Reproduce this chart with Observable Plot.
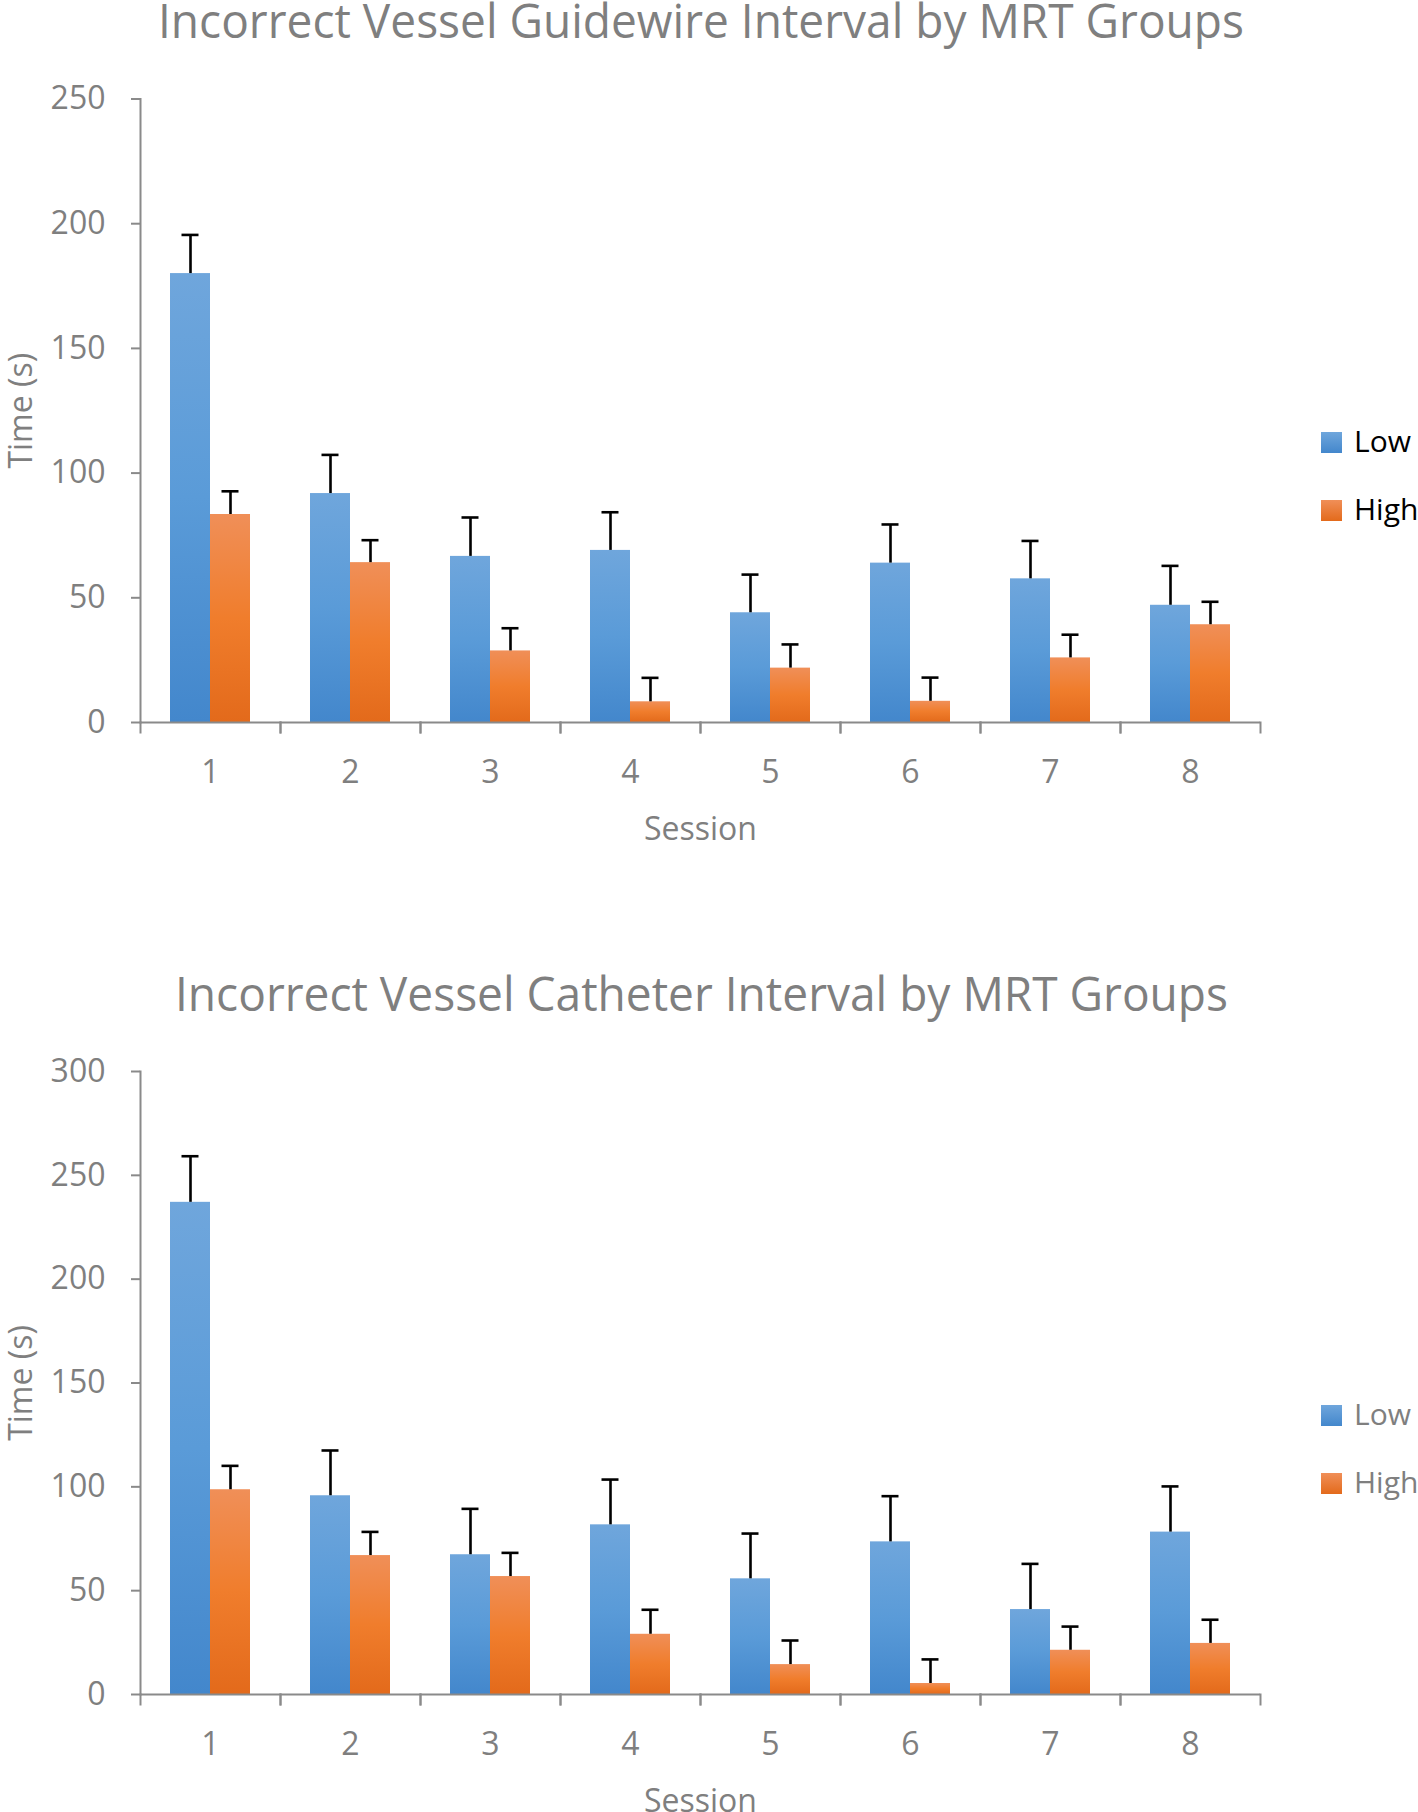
<!DOCTYPE html>
<html>
<head>
<meta charset="utf-8">
<script src="https://cdn.jsdelivr.net/npm/d3@7"></script>
<script src="https://cdn.jsdelivr.net/npm/@observablehq/plot@0.6"></script>
<style>
  html, body { margin: 0; padding: 0; background: #ffffff; }
  #root { position: relative; width: 1418px; height: 1812px; overflow: hidden; font-family: "Open Sans", sans-serif; }
  .title { position: absolute; white-space: nowrap; font-size: 48px; line-height: 1; color: #7f7f7f; transform-origin: 0 0; }
  .chart { position: absolute; left: 0; }
  .sw { position: absolute; width: 21px; height: 21px; }
  .legtxt { position: absolute; font-size: 30px; line-height: 1; white-space: nowrap; }
</style>
</head>
<body>
<div id="root">
  <svg width="0" height="0" style="position:absolute">
    <defs>
      <linearGradient id="gLow" x1="0" y1="0" x2="0" y2="1">
        <stop offset="0" stop-color="#6fa6dc"/>
        <stop offset="0.5" stop-color="#5a9bd8"/>
        <stop offset="1" stop-color="#4387cc"/>
      </linearGradient>
      <linearGradient id="gHigh" x1="0" y1="0" x2="0" y2="1">
        <stop offset="0" stop-color="#f08f58"/>
        <stop offset="0.5" stop-color="#f07d2c"/>
        <stop offset="1" stop-color="#e36a1b"/>
      </linearGradient>
    </defs>
  </svg>
</div>
<script>
// ---- data ----
const sessions = ["1", "2", "3", "4", "5", "6", "7", "8"];
const groups = ["Low", "High"];

const guideTitle = "Incorrect Vessel Guidewire Interval by MRT Groups";
const guideLow    = [180.0, 91.8, 66.6, 69.0, 44.0, 63.9, 57.6, 47.0];
const guideLowSE  = [15.5, 15.5, 15.6, 15.3, 15.3, 15.5, 15.2, 15.8];
const guideHigh   = [83.4, 64.1, 28.7, 8.3, 21.8, 8.5, 25.9, 39.2];
const guideHighSE = [9.3, 9.0, 9.1, 9.6, 9.5, 9.5, 9.3, 9.2];
const guideTicks  = [0, 50, 100, 150, 200, 250];

const cathTitle = "Incorrect Vessel Catheter Interval by MRT Groups";
const cathLow    = [237.0, 95.7, 67.3, 81.7, 55.7, 73.5, 40.9, 78.2];
const cathLowSE  = [22.2, 21.8, 22.1, 21.8, 21.8, 22.0, 22.0, 22.0];
const cathHigh   = [98.6, 66.9, 56.8, 29.0, 14.4, 5.3, 21.3, 24.6];
const cathHighSE = [11.5, 11.4, 11.4, 11.8, 11.6, 11.6, 11.4, 11.4];
const cathTicks  = [0, 50, 100, 150, 200, 250, 300];

const yLabel = "Time (s)";
const xLabel = "Session";

// ---- layout ----
const root = document.getElementById("root");
const axisGray = "#8a8a8a";
const textGray = "#7f7f7f";

function buildRows(low, lowSE, high, highSE) {
  const rows = [];
  sessions.forEach((s, i) => {
    rows.push({session: s, group: "Low", value: low[i], se: lowSE[i]});
    rows.push({session: s, group: "High", value: high[i], se: highSE[i]});
  });
  return rows;
}

function chart({low, lowSE, high, highSE, ticks, svgTop, plotTop, plotBottom}) {
  const rows = buildRows(low, lowSE, high, highSE);
  const marginTop = plotTop - svgTop;
  const plotH = plotBottom - plotTop;
  const marginBottom = 150;
  const height = marginTop + plotH + marginBottom;
  const p = Plot.plot({
    width: 1418,
    height,
    marginTop,
    marginBottom,
    marginLeft: 140,
    marginRight: 1418 - 1260,
    style: {fontFamily: "Open Sans", fontSize: "32px", color: textGray, background: "transparent", overflow: "visible"},
    fx: {domain: sessions, padding: 0},
    x: {domain: groups, paddingInner: 0, paddingOuter: 0.733, axis: null},
    y: {domain: [0, d3.max(ticks)], axis: null},
    marks: [
      Plot.barY(rows.filter(d => d.group === "Low"), {fx: "session", x: "group", y: "value", fill: "url(#gLow)"}),
      Plot.barY(rows.filter(d => d.group === "High"), {fx: "session", x: "group", y: "value", fill: "url(#gHigh)"}),
      Plot.ruleX(rows, {fx: "session", x: "group", y1: "value", y2: d => d.value + d.se, stroke: "#000", strokeWidth: 2.6}),
      Plot.tickY(rows, {fx: "session", x: "group", y: d => d.value + d.se, stroke: "#000", strokeWidth: 2.6, insetLeft: 11.5, insetRight: 11.5}),
      Plot.ruleY([0], {stroke: axisGray, strokeWidth: 2}),
      Plot.frame({anchor: "left", fx: sessions[0], stroke: axisGray, strokeWidth: 2}),
      Plot.frame({anchor: "left", insetTop: plotH, insetBottom: -10, stroke: axisGray, strokeWidth: 2}),
      Plot.frame({anchor: "right", insetTop: plotH, insetBottom: -10, stroke: axisGray, strokeWidth: 2}),
      Plot.axisY({ticks, tickSize: 9, tickPadding: 26, stroke: axisGray, strokeWidth: 2,
                  label: yLabel, labelAnchor: "center", labelArrow: "none", labelOffset: 131}),
      Plot.axisFx({anchor: "bottom", tickSize: 0, tickPadding: 38, label: xLabel, labelAnchor: "center", labelOffset: 117})
    ]
  });
  p.classList.add("chart");
  p.style.top = svgTop + "px";
  root.appendChild(p);
}

function title(text, centerX, baselineY, targetW) {
  const d = document.createElement("div");
  d.className = "title";
  d.textContent = text;
  root.appendChild(d);
  const w = d.getBoundingClientRect().width;
  d.style.left = (centerX - targetW / 2) + "px";
  d.style.top = (baselineY - 0.888 * 48) + "px";
  d.style.transform = `scaleX(${targetW / w})`;
}

function legend(topLow, topHigh, color) {
  const items = [
    {label: groups[0], top: topLow, bg: "linear-gradient(#6fa6dc, #4387cc)"},
    {label: groups[1], top: topHigh, bg: "linear-gradient(#f08f58, #e36a1b)"}
  ];
  for (const it of items) {
    const s = document.createElement("div");
    s.className = "sw";
    s.style.left = "1321px";
    s.style.top = it.top + "px";
    s.style.background = it.bg;
    root.appendChild(s);
    const t = document.createElement("div");
    t.className = "legtxt";
    t.textContent = it.label;
    t.style.left = "1354px";
    t.style.top = (it.top + 21 - 0.888 * 30) + "px";
    t.style.color = color;
    root.appendChild(t);
  }
}

title(guideTitle, 701, 39, 1086);
chart({low: guideLow, lowSE: guideLowSE, high: guideHigh, highSE: guideHighSE, ticks: guideTicks,
       svgTop: 50, plotTop: 98.5, plotBottom: 722});
legend(432, 500, "#000000");

title(cathTitle, 701, 1012, 1053);
chart({low: cathLow, lowSE: cathLowSE, high: cathHigh, highSE: cathHighSE, ticks: cathTicks,
       svgTop: 1030, plotTop: 1071, plotBottom: 1694});
legend(1405, 1473, textGray);
</script>
</body>
</html>
